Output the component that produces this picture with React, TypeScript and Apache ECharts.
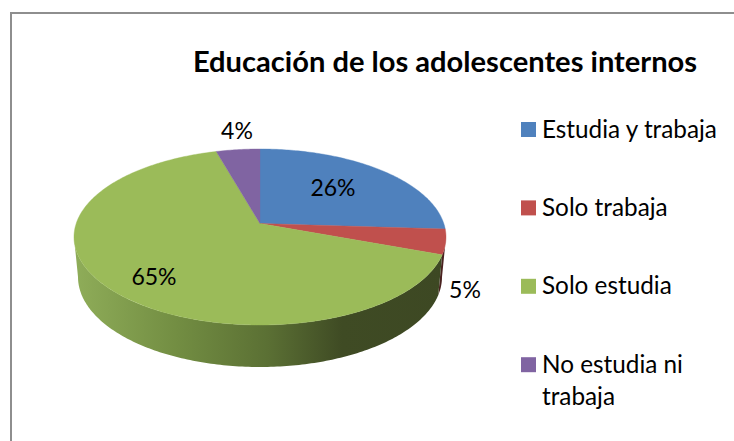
import React, { useEffect, useRef } from "react";
import * as echarts from "echarts";

const categories = ["Estudia y trabaja", "Solo trabaja", "Solo estudia", "No estudia ni\ntrabaja"];
const values = [26, 4.6, 65, 4.4];
const colors = ["#4f81bd", "#c0504d", "#9bbb59", "#8064a2"];
const chartTitle = "Educación de los adolescentes internos";

const FONT = "Lato";
const TOP = { cx: 260, cy: 237, rx: 186, ry: 88 };
const BOTTOM = { cx: 260, cy: 277, rx: 182, ry: 90 };
const TILT = -0.153;
const FRONT_START = (98.8 * Math.PI) / 180;
const FRONT_END = (261.2 * Math.PI) / 180;
const LABEL_POS = [[333, 187], [465, 289], [154, 276], [237, 130]];
const total = values.reduce((a, b) => a + b, 0);

const rows = values.map((v, i) => {
  const before = values.slice(0, i).reduce((a, b) => a + b, 0);
  return [i, (before / total) * Math.PI * 2, ((before + v) / total) * Math.PI * 2, v];
});

function project(a: number, e: typeof TOP, r = 1): number[] {
  const u = Math.sin(a) * r;
  const v = -Math.cos(a) * r;
  const d = 1 + TILT * v;
  return [e.cx + (e.rx * u * Math.sqrt(1 - TILT * TILT)) / d, e.cy + (e.ry * (v + TILT)) / d];
}

function arc(a0: number, a1: number, e: typeof TOP): number[][] {
  const n = Math.max(2, Math.ceil((a1 - a0) / 0.015));
  const pts: number[][] = [];
  for (let i = 0; i <= n; i++) pts.push(project(a0 + ((a1 - a0) * i) / n, e));
  return pts;
}

function wallFill(i: number) {
  const stops: Record<number, any[]> = {
    1: [
      { offset: 0, color: "#5a2c2a" },
      { offset: 1, color: "#4a2220" },
    ],
  };
  return new echarts.graphic.LinearGradient(
    74, 0, 446, 0,
    stops[i] || [
      { offset: 0, color: "#8fad59" },
      { offset: 0.28, color: "#728d42" },
      { offset: 0.52, color: "#5b7034" },
      { offset: 0.72, color: "#3f4b24" },
      { offset: 1, color: "#3d4823" },
    ],
    true
  );
}

export default function App() {
  const ref = useRef<HTMLDivElement>(null);
  useEffect(() => {
    const chart = echarts.init(ref.current!, undefined, { renderer: "svg" });
    chart.setOption({
      animation: false,
      backgroundColor: "#ffffff",
      title: {
        text: chartTitle,
        left: 440,
        top: 41,
        textAlign: "center",
        textStyle: { fontFamily: FONT, fontSize: 29.1, fontWeight: "bold", color: "#000" },
      },
      graphic: [
        { type: "line", shape: { x1: 10, y1: 13, x2: 734, y2: 13 }, style: { stroke: "#8e8e8e", lineWidth: 2 } },
        { type: "line", shape: { x1: 11, y1: 12, x2: 11, y2: 441 }, style: { stroke: "#8e8e8e", lineWidth: 2 } },
        ...categories.flatMap((name, i) => {
          const y = 129.5 + i * 78.4;
          return [
            { type: "rect", shape: { x: 521, y: y - 7.5, width: 15, height: 15 }, style: { fill: colors[i] } },
            {
              type: "text",
              x: 542,
              y: y - 17.5,
              style: { text: name, fontFamily: FONT, fontSize: 24.3, fill: "#000", lineHeight: 32, textVerticalAlign: "top" },
            },
          ];
        }),
      ],
      series: [
        {
          type: "custom",
          name: "walls",
          coordinateSystem: "none",
          silent: true,
          z: 1,
          data: rows,
          renderItem: (_p: any, api: any) => {
            const i = api.value(0);
            const a0 = Math.max(api.value(1), FRONT_START);
            const a1 = Math.min(api.value(2), FRONT_END);
            if (a0 >= a1) return null;
            const points = [...arc(a0, a1, TOP), ...arc(a0, a1, BOTTOM).reverse()];
            return { type: "polygon", shape: { points }, style: { fill: wallFill(i) } };
          },
        },
        {
          type: "custom",
          name: "tops",
          coordinateSystem: "none",
          silent: true,
          z: 2,
          data: rows,
          renderItem: (_p: any, api: any) => {
            const i = api.value(0);
            const points = [project(0, TOP, 0), ...arc(api.value(1), api.value(2), TOP)];
            return { type: "polygon", shape: { points }, style: { fill: colors[i], stroke: colors[i], lineWidth: 0.4 } };
          },
        },
        {
          type: "custom",
          name: "labels",
          coordinateSystem: "none",
          silent: true,
          z: 3,
          data: rows,
          renderItem: (_p: any, api: any) => {
            const i = api.value(0);
            return {
              type: "text",
              x: LABEL_POS[i][0],
              y: LABEL_POS[i][1],
              style: {
                text: `${Math.round((api.value(3) / total) * 100)}%`,
                fontFamily: FONT,
                fontSize: 23,
                fill: "#000",
                textAlign: "center",
                textVerticalAlign: "middle",
              },
            };
          },
        },
      ],
    });
    return () => chart.dispose();
  }, []);
  return <div ref={ref} style={{ position: "absolute", left: 0, top: 0, width: 734, height: 441 }} />;
}
